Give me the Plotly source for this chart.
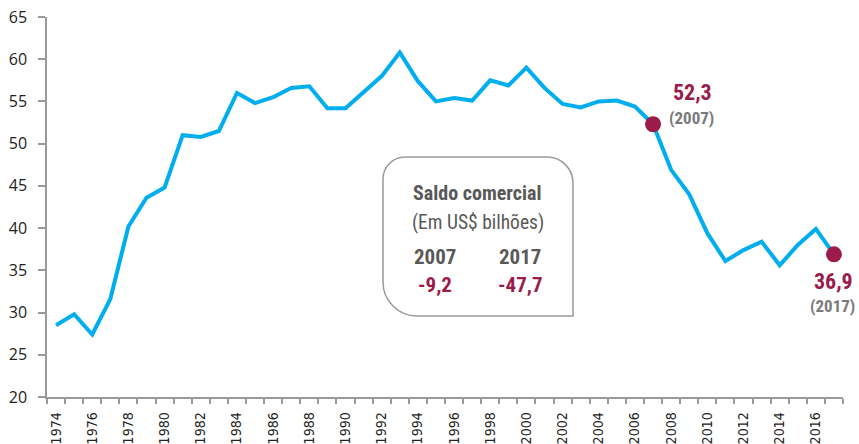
import plotly.graph_objects as go

years = list(range(1974, 2018))
values = [28.5, 29.8, 27.4, 31.6, 40.2, 43.6, 44.8, 51.0, 50.8, 51.5,
          56.0, 54.8, 55.5, 56.6, 56.8, 54.2, 54.2, 56.1, 58.0, 60.8,
          57.4, 55.0, 55.4, 55.1, 57.5, 56.9, 59.0, 56.6, 54.7, 54.3,
          55.0, 55.1, 54.4, 52.3, 46.9, 44.0, 39.4, 36.1, 37.4, 38.4,
          35.6, 38.0, 39.9, 36.9]
tick_years = list(range(1974, 2017, 2))
highlight_years = [2007, 2017]
box_title = "Saldo comercial"
box_subtitle = "(Em US$ bilhões)"
box_years = ["2007", "2017"]
box_values = ["-9,2", "-47,7"]

BLUE = "#00AEEF"
RED = "#9B1B4A"
GREY = "#595959"
W, H = 859, 444
L, R, T, B = 47, 16, 17, 47
PW, PH = W - L - R, H - T - B

def px(x):
    return (x - L) / PW

def py(y):
    return (H - B - y) / PH

FONT = "Roboto Condensed, Liberation Sans Narrow, DejaVu Sans Condensed, sans-serif"

hv = [values[years.index(y)] for y in highlight_years]

fig = go.Figure()
fig.add_trace(go.Scatter(x=years, y=values, mode="lines",
                         line=dict(color=BLUE, width=4), hoverinfo="skip"))
fig.add_trace(go.Scatter(x=highlight_years, y=hv, mode="markers",
                         marker=dict(color=RED, size=16), hoverinfo="skip"))

# rounded box (pixel geometry)
bl, br, bt, bb = 383, 573, 157, 316
rtl, rtr, rbl = 22, 26, 34
k = 0.5523
def P(x, y):
    return f"{px(x):.5f},{py(y):.5f}"
path = (f"M {P(bl, bt + rtl)} "
        f"C {P(bl, bt + rtl - k*rtl)} {P(bl + rtl - k*rtl, bt)} {P(bl + rtl, bt)} "
        f"L {P(br - rtr, bt)} "
        f"C {P(br - rtr + k*rtr, bt)} {P(br, bt + rtr - k*rtr)} {P(br, bt + rtr)} "
        f"L {P(br, bb)} "
        f"L {P(bl + rbl, bb)} "
        f"C {P(bl + rbl - k*rbl, bb)} {P(bl, bb - rbl + k*rbl)} {P(bl, bb - rbl)} Z")
fig.add_shape(type="path", path=path, xref="paper", yref="paper",
              line=dict(color="#9a9a9a", width=1.5), fillcolor="rgba(0,0,0,0)")

ann = []
def add(text, x, y, size, color, bold=False):
    t = f"<b>{text}</b>" if bold else text
    ann.append(dict(text=t, x=px(x), y=py(y), xref="paper", yref="paper",
                    xanchor="center", yanchor="middle", showarrow=False,
                    font=dict(family=FONT, size=size, color=color)))

add(box_title, 477, 193, 20, GREY, True)
add(box_subtitle, 478, 222, 19.5, GREY)
add(box_years[0], 435, 257, 21, GREY, True)
add(box_years[1], 520, 257, 21, GREY, True)
add(box_values[0], 435, 285, 21, RED, True)
add(box_values[1], 520, 285, 21, RED, True)

add(f"{hv[0]:.1f}".replace(".", ","), 692, 93, 22, RED, True)
add(f"({highlight_years[0]})", 691, 118, 17, "#7a7a7a", True)
add(f"{hv[1]:.1f}".replace(".", ","), 833, 281, 22, RED, True)
add(f"({highlight_years[1]})", 832, 306, 17, "#7a7a7a", True)

fig.update_layout(
    width=W, height=H, margin=dict(l=L, r=R, t=T, b=B),
    paper_bgcolor="white", plot_bgcolor="white", showlegend=False,
    annotations=ann,
    xaxis=dict(range=[1973.5, 2017.5], tickmode="array", tickvals=tick_years,
               ticktext=[str(y) for y in tick_years], tickangle=-90,
               ticks="", showgrid=False, zeroline=False, automargin=False,
               ticklabelstandoff=8,
               showline=True, linecolor="#9a9a9a", linewidth=1.5,
               tickfont=dict(family="DejaVu Sans Condensed, sans-serif", size=14, color="#222"),
               minor=dict(tick0=1973.5, dtick=1, ticks="outside", ticklen=5,
                          tickcolor="#9a9a9a", tickwidth=1.5, showgrid=False)),
    yaxis=dict(range=[20, 65], dtick=5, tick0=20, ticks="outside", ticklen=7,
               tickcolor="#9a9a9a", tickwidth=1.5, showgrid=False, zeroline=False,
               showline=True, linecolor="#9a9a9a", linewidth=1.5, automargin=False,
               ticklabelstandoff=8,
               tickfont=dict(family="Open Sans, sans-serif", size=16, color="#222")),
)

fig.write_html("out.html")
